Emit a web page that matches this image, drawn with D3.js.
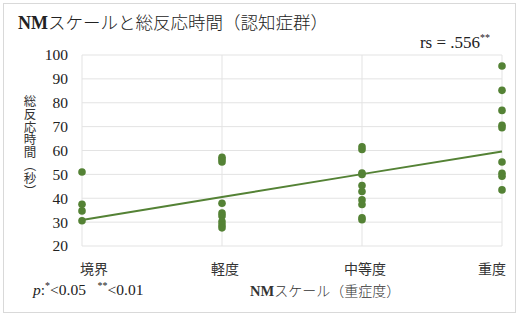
<!DOCTYPE html>
<html><head><meta charset="utf-8">
<script src="https://cdn.jsdelivr.net/npm/d3@7"></script>
<style>body{margin:0;background:#fff;}svg{display:block;}text{white-space:pre;}</style>
</head><body>
<script>
const categories = ["境界", "軽度", "中等度", "重度"];
const kyokai = [51, 37.5, 34.7, 30.6];
const keido = [57.2, 56.2, 55.2, 37.9, 33.8, 32.6, 30.2, 28.8, 27.6];
const chutoudo = [61.6, 60.4, 50.6, 50.0, 45.3, 42.8, 39.3, 37.4, 31.8, 31.0];
const judo = [95.4, 85.2, 76.8, 70.6, 69.5, 55.2, 50.5, 49.2, 43.5];
const trend = [30.9, 40.5, 50.1, 59.6];
const yTicks = [20, 30, 40, 50, 60, 70, 80, 90, 100];
const groups = [kyokai, keido, chutoudo, judo];

const W = 522, H = 326;
const L = 82, R = 502, T = 55, B = 246;
const green = "#548235";
const serif = "'Liberation Serif','DejaVu Serif',serif";
const jp = "'Noto Sans CJK JP',sans-serif";

const svg = d3.select("body").append("svg").attr("width", W).attr("height", H);
svg.append("rect").attr("x", 3.5).attr("y", 3.5).attr("width", 512).attr("height", 309)
  .attr("fill", "#fff").attr("stroke", "#d9d9d9");

const x = d3.scalePoint().domain(categories).range([L, R]);
const y = d3.scaleLinear().domain([20, 100]).range([B, T]);

// gridlines
svg.append("g").selectAll("line").data(yTicks).join("line")
  .attr("x1", L).attr("x2", R).attr("y1", d => y(d)).attr("y2", d => y(d))
  .attr("stroke", "#e3e3e3").attr("stroke-width", 1);
svg.append("g").selectAll("line").data(categories).join("line")
  .attr("x1", d => x(d)).attr("x2", d => x(d)).attr("y1", T).attr("y2", B)
  .attr("stroke", "#e3e3e3").attr("stroke-width", 1);

// y tick labels
svg.append("g").selectAll("text").data(yTicks).join("text")
  .attr("x", 68).attr("y", d => y(d)).attr("dy", "0.35em")
  .attr("text-anchor", "end").attr("font-family", serif).attr("font-size", 15.5)
  .attr("fill", "#222").text(d => d);

// x labels
svg.append("g").selectAll("text").data(categories).join("text")
  .attr("x", d => Math.max(L + 12, Math.min(R - 10, x(d) + 3)))
  .attr("y", 269).attr("dy", "0.35em").attr("text-anchor", "middle")
  .attr("font-family", jp).attr("font-size", 14).attr("fill", "#333").text(d => d);

// trend line
const line = d3.line().x((d, i) => x(categories[i])).y(d => y(d));
svg.append("path").datum(trend).attr("d", line).attr("fill", "none")
  .attr("stroke", green).attr("stroke-width", 2);

// points
groups.forEach((g, i) => {
  svg.append("g").selectAll("circle").data(g).join("circle")
    .attr("cx", x(categories[i])).attr("cy", d => y(d)).attr("r", 3.8).attr("fill", green);
});

// title
const title = svg.append("text").attr("x", 18).attr("y", 29).attr("font-size", 17.5).attr("fill", "#222");
title.append("tspan").attr("font-family", serif).attr("font-weight", "bold").attr("font-size", 18).text("NM");
title.append("tspan").attr("font-family", jp).attr("font-weight", 300).text("スケールと総反応時間（認知症群）");

// rs
const rs = svg.append("text").attr("x", 490).attr("y", 48).attr("text-anchor", "end")
  .attr("font-family", serif).attr("font-size", 17).attr("fill", "#222");
rs.append("tspan").text("rs = .556");
rs.append("tspan").attr("dy", -7).attr("font-size", 10).text("**");

// y axis title (vertical)
svg.append("text").attr("x", 30).attr("y", 95)
  .style("writing-mode", "vertical-rl").style("text-orientation", "upright")
  .attr("font-family", jp).attr("font-size", 12.5).attr("letter-spacing", 0.3)
  .attr("fill", "#333").text("総反応時間（秒）");

// footnote
const pn = svg.append("text").attr("x", 33).attr("y", 295).attr("font-family", serif)
  .attr("font-size", 15.5).attr("fill", "#222");
pn.append("tspan").attr("font-style", "italic").text("p");
pn.append("tspan").text(":");
pn.append("tspan").attr("dy", -6).attr("font-size", 10).text("*");
pn.append("tspan").attr("dy", 6).text("<0.05   ");
pn.append("tspan").attr("dy", -6).attr("font-size", 10).text("**");
pn.append("tspan").attr("dy", 6).text("<0.01");

// x axis title
const xt = svg.append("text").attr("x", 250).attr("y", 296).attr("font-size", 14).attr("fill", "#333");
xt.append("tspan").attr("font-family", serif).attr("font-weight", "bold").attr("font-size", 14.5).text("NM");
xt.append("tspan").attr("font-family", jp).attr("font-weight", 300).text("スケール（重症度）");
</script>
</body></html>
